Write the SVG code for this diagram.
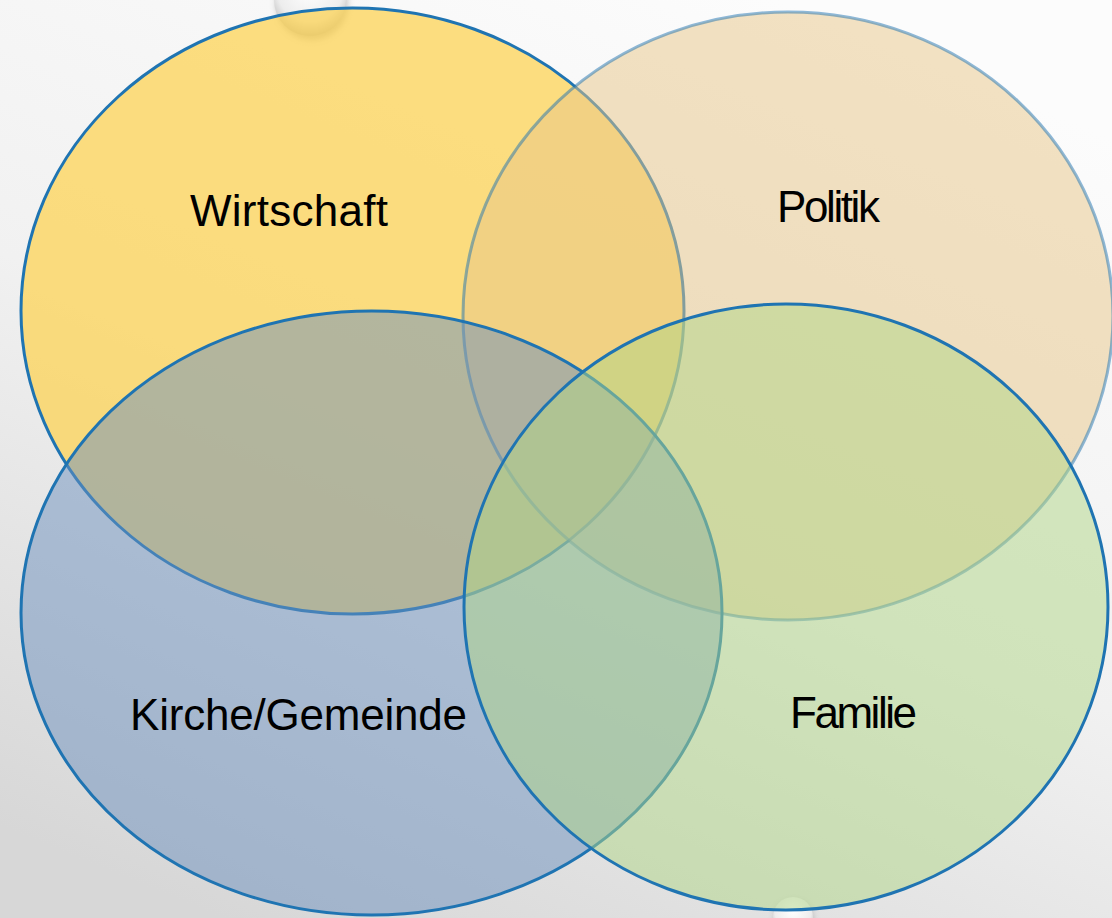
<svg xmlns="http://www.w3.org/2000/svg" width="1112" height="918" viewBox="0 0 1112 918">
  <defs>
    <linearGradient id="bg" x1="0.7" y1="0" x2="0.2" y2="1">
      <stop offset="0" stop-color="#FCFCFC"/>
      <stop offset="0.5" stop-color="#F1F1F1"/>
      <stop offset="1" stop-color="#D7D7D7"/>
    </linearGradient>
    <radialGradient id="drop" cx="0.5" cy="0.35" r="0.65">
      <stop offset="0" stop-color="#FFFFFF"/>
      <stop offset="0.7" stop-color="#EDEDED"/>
      <stop offset="1" stop-color="#BFBFBF"/>
    </radialGradient>
    <filter id="blur" x="-50%" y="-50%" width="200%" height="200%">
      <feGaussianBlur stdDeviation="3"/>
    </filter>
  </defs>
  <style>
    .set { stroke: #1F74B2; stroke-width: 3; }
    .lbl { font-family: "Liberation Sans", "DejaVu Sans", sans-serif; font-size: 44px; fill: #000000; }
  </style>

  <rect x="0" y="0" width="1112" height="918" fill="url(#bg)"/>

  <g id="decor">
    <circle cx="312" cy="4" r="36" fill="#8A8A8A" opacity="0.45" filter="url(#blur)"/>
    <circle cx="310" cy="0" r="36" fill="url(#drop)"/>
    <circle cx="794" cy="920" r="20" fill="#8A8A8A" opacity="0.4" filter="url(#blur)"/>
    <circle cx="793" cy="917" r="20" fill="url(#drop)"/>
  </g>

  <g id="node-wirtschaft">
    <ellipse class="set" cx="352.5" cy="311" rx="331.5" ry="303" fill="#FDD14C" fill-opacity="0.7"/>
    <text class="lbl" x="190" y="226" textLength="198">Wirtschaft</text>
  </g>

  <g id="node-politik">
    <ellipse class="set" cx="788" cy="316" rx="325" ry="304" fill="#E8C688" fill-opacity="0.5" stroke-opacity="0.5"/>
    <text class="lbl" x="777" y="222" textLength="103">Politik</text>
  </g>

  <g id="node-kirche">
    <ellipse class="set" cx="371.5" cy="613" rx="350.5" ry="302" fill="#6C90BE" fill-opacity="0.5"/>
    <text class="lbl" x="130" y="730" textLength="337">Kirche/Gemeinde</text>
  </g>

  <g id="node-familie">
    <ellipse class="set" cx="786" cy="607" rx="322" ry="303" fill="#AFD585" fill-opacity="0.5"/>
    <text class="lbl" x="790" y="728" textLength="127">Familie</text>
  </g>

  <g id="connectors"></g>
</svg>
